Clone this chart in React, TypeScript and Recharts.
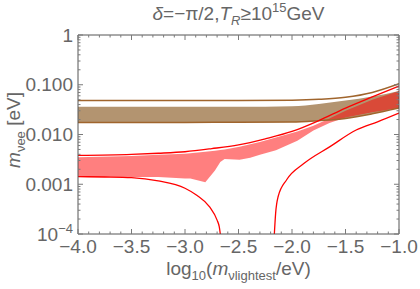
import { ComposedChart, Area, Line, XAxis, YAxis } from "recharts";

const TEXT = "#666666";
const FRAME = "#555555";
const TICK = "#7a7a7a";
const FONT = "'Liberation Sans', Arial, Helvetica, sans-serif";
const BROWN_FILL = "#b39470";
const BROWN_LINE = "#a0652d";
const RED = "#ff0000";

// brown band and its outline lines
const brownX = [-4, -3.5, -3, -2.5, -2, -1.75, -1.5, -1.25, -1];
const brownTopLine = [0.048, 0.048, 0.048, 0.048, 0.049, 0.051, 0.056, 0.07, 0.105];
const brownBandHigh = [0.036, 0.036, 0.036, 0.036, 0.037, 0.041, 0.048, 0.058, 0.075];
const brownBandLow = [0.0175, 0.0175, 0.0175, 0.0176, 0.0178, 0.019, 0.021, 0.026, 0.034];

// red scatter region
const redBandX = [-4, -3.5, -3.25, -3, -2.95, -2.81, -2.72, -2.67, -2.63, -2.49, -2.39, -2.3, -2.15, -1.95, -1.8, -1.65, -1.5, -1.25, -1];
const redBandLow = [0.0014, 0.0014, 0.0014, 0.0013, 0.0013, 0.0011, 0.0019, 0.0028, 0.0032, 0.0031, 0.0034, 0.0039, 0.0048, 0.0075, 0.012, 0.017, 0.022, 0.028, 0.034];
const redBandHigh = [0.0035, 0.0037, 0.0039, 0.0041, 0.0042, 0.0045, 0.0047, 0.0049, 0.005, 0.0057, 0.0064, 0.0071, 0.0087, 0.0115, 0.015, 0.021, 0.03, 0.05, 0.075];

// red boundary curves
const redUpperX = [-4, -3.5, -3.25, -3, -2.75, -2.5, -2.25, -2, -1.75, -1.5, -1.25, -1];
const redUpper = [0.0038, 0.004, 0.0042, 0.0045, 0.0052, 0.0062, 0.0082, 0.0115, 0.019, 0.034, 0.057, 0.094];
const redLeftX = [-4, -3.75, -3.5, -3.25, -3, -2.89, -2.77, -2.7, -2.68, -2.67];
const redLeft = [0.00142, 0.0014, 0.00136, 0.00117, 0.00083, 0.0006, 0.00035, 0.00019, 0.00014, 0.0001];
const redRightX = [-2.165, -2.153, -2.13, -2.05, -1.89, -1.645, -1.4, -1.2, -1];
const redRight = [0.0001, 0.00026, 0.00056, 0.00123, 0.0026, 0.0057, 0.0123, 0.018, 0.027];

const brownData = brownX.map((x, i) => ({
  x,
  top: brownTopLine[i],
  high: brownBandHigh[i],
  low: brownBandLow[i],
}));
const redBandData = redBandX.map((x, i) => ({ x, low: redBandLow[i], high: redBandHigh[i] }));
const redUpperData = redUpperX.map((x, i) => ({ x, y: redUpper[i] }));
const redLeftData = redLeftX.map((x, i) => ({ x, y: redLeft[i] }));
const redRightData = redRightX.map((x, i) => ({ x, y: redRight[i] }));

// frame ticks: every 0.1 on x, log minors on y
const xTicks = Array.from({ length: 31 }, (_, i) => Math.round((-4 + i * 0.1) * 10) / 10);
const yTicks: number[] = [];
for (let d = -4; d < 0; d++) {
  for (let k = 1; k <= 9; k++) yTicks.push(Number((k * Math.pow(10, d)).toPrecision(3)));
}
yTicks.push(1);

const isHalf = (v: number) => Math.abs(v * 2 - Math.round(v * 2)) < 1e-6;
const isDecade = (v: number) => {
  const e = Math.log10(v);
  return Math.abs(e - Math.round(e)) < 1e-6;
};

const yLabels: Record<string, string> = { "0": "1", "-1": "0.100", "-2": "0.010", "-3": "0.001" };

function BottomTick(props: any) {
  const { x, y, payload } = props;
  const v: number = payload.value;
  const major = isHalf(v);
  return (
    <g>
      <line x1={x} x2={x} y1={y} y2={y - (major ? 5 : 2.5)} stroke={TICK} />
      {major && (
        <text x={x} y={y + 19} textAnchor="middle" fill={TEXT} fontSize={19} fontFamily={FONT}>
          {v.toFixed(1).replace("-", "\u2212")}
        </text>
      )}
    </g>
  );
}

function TopTick(props: any) {
  const { x, y, payload } = props;
  const major = isHalf(payload.value);
  return <line x1={x} x2={x} y1={y} y2={y + (major ? 5 : 2.5)} stroke={TICK} />;
}

function LeftTick(props: any) {
  const { x, y, payload } = props;
  const v: number = payload.value;
  const major = isDecade(v);
  const e = Math.round(Math.log10(v));
  return (
    <g>
      <line x1={x} x2={x + (major ? 5 : 2.5)} y1={y} y2={y} stroke={TICK} />
      {major && (
        <text x={x - 5} y={y} dy="0.35em" textAnchor="end" fill={TEXT} fontSize={19} fontFamily={FONT}>
          {e === -4 ? (
            <>
              10<tspan fontSize={13} dy={-8}>{"\u22124"}</tspan>
            </>
          ) : (
            yLabels[String(e)]
          )}
        </text>
      )}
    </g>
  );
}

function RightTick(props: any) {
  const { x, y, payload } = props;
  const major = isDecade(payload.value);
  return <line x1={x} x2={x - (major ? 5 : 2.5)} y1={y} y2={y} stroke={TICK} />;
}

function PlotTitle(props: any) {
  const vb = props.viewBox ?? { x: 78, y: 5, width: 321, height: 30 };
  return (
    <text x={vb.x + vb.width / 2} y={vb.y + 15} textAnchor="middle" fill={TEXT} fontSize={19} fontFamily={FONT}>
      <tspan fontStyle="italic">δ</tspan>=−π/2,<tspan fontStyle="italic">T</tspan>
      <tspan fontSize={13} dy={5} fontStyle="italic">R</tspan>
      <tspan dy={-5}>≥10</tspan>
      <tspan fontSize={13} dy={-8}>15</tspan>
      <tspan dy={8}>GeV</tspan>
    </text>
  );
}

function XTitle(props: any) {
  const vb = props.viewBox ?? { x: 78, y: 234, width: 321, height: 55 };
  return (
    <text x={vb.x + vb.width / 2} y={vb.y + 41} textAnchor="middle" fill={TEXT} fontSize={19} fontFamily={FONT}>
      log<tspan fontSize={13} dy={5}>10</tspan>
      <tspan dy={-5}>(</tspan>
      <tspan fontStyle="italic">m</tspan>
      <tspan fontSize={13} dy={5}>νlightest</tspan>
      <tspan dy={-5}>/eV)</tspan>
    </text>
  );
}

function YTitle(props: any) {
  const vb = props.viewBox ?? { x: 0, y: 35, width: 78, height: 199 };
  const cx = vb.x + 20;
  const cy = vb.y + 95;
  return (
    <text
      x={cx}
      y={cy}
      transform={`rotate(-90, ${cx}, ${cy})`}
      textAnchor="middle"
      fill={TEXT}
      fontSize={19}
      fontFamily={FONT}
    >
      <tspan fontStyle="italic">m</tspan>
      <tspan fontSize={13} dy={5}>νee</tspan>
      <tspan dy={-5}> [eV]</tspan>
    </text>
  );
}

export default function App() {
  return (
    <div style={{ position: "absolute", left: 0, top: 0, background: "#fff" }}>
      <ComposedChart width={420} height={289} margin={{ top: 5, right: 0, bottom: 0, left: 0 }}>
        <XAxis
          xAxisId="b"
          dataKey="x"
          type="number"
          domain={[-4, -1]}
          allowDataOverflow
          ticks={xTicks}
          interval={0}
          tick={<BottomTick />}
          tickLine={false}
          tickSize={0}
          tickMargin={0}
          height={55}
          axisLine={{ stroke: FRAME }}
          label={<XTitle />}
        />
        <XAxis
          xAxisId="t"
          orientation="top"
          dataKey="x"
          type="number"
          domain={[-4, -1]}
          allowDataOverflow
          ticks={xTicks}
          interval={0}
          tick={<TopTick />}
          tickLine={false}
          tickSize={0}
          tickMargin={0}
          height={30}
          axisLine={{ stroke: FRAME }}
          label={<PlotTitle />}
        />
        <YAxis
          yAxisId="l"
          type="number"
          scale="log"
          domain={[0.0001, 1]}
          allowDataOverflow
          ticks={yTicks}
          interval={0}
          tick={<LeftTick />}
          tickLine={false}
          tickSize={0}
          tickMargin={0}
          width={78}
          axisLine={{ stroke: FRAME }}
          label={<YTitle />}
        />
        <YAxis
          yAxisId="r"
          orientation="right"
          type="number"
          scale="log"
          domain={[0.0001, 1]}
          allowDataOverflow
          ticks={yTicks}
          interval={0}
          tick={<RightTick />}
          tickLine={false}
          tickSize={0}
          tickMargin={0}
          width={21}
          axisLine={{ stroke: FRAME }}
        />

        <Area
          xAxisId="b"
          yAxisId="l"
          data={brownData}
          dataKey={(d: any) => [d.low, d.high]}
          type="monotone"
          stroke="none"
          fill={BROWN_FILL}
          fillOpacity={1}
          isAnimationActive={false}
        />
        <Line xAxisId="b" yAxisId="l" data={brownData} dataKey="top" type="monotone" stroke={BROWN_LINE} strokeWidth={1.5} dot={false} activeDot={false} isAnimationActive={false} />
        <Line xAxisId="b" yAxisId="l" data={brownData} dataKey="low" type="monotone" stroke={BROWN_LINE} strokeWidth={1.5} dot={false} activeDot={false} isAnimationActive={false} />

        <Area
          xAxisId="b"
          yAxisId="l"
          data={redBandData}
          dataKey={(d: any) => [d.low, d.high]}
          type="linear"
          stroke="none"
          fill={RED}
          fillOpacity={0.5}
          isAnimationActive={false}
        />
        <Line xAxisId="b" yAxisId="l" data={redUpperData} dataKey="y" type="monotone" stroke={RED} strokeWidth={1.3} dot={false} activeDot={false} isAnimationActive={false} />
        <Line xAxisId="b" yAxisId="l" data={redLeftData} dataKey="y" type="monotone" stroke={RED} strokeWidth={1.3} dot={false} activeDot={false} isAnimationActive={false} />
        <Line xAxisId="b" yAxisId="l" data={redRightData} dataKey="y" type="monotone" stroke={RED} strokeWidth={1.3} dot={false} activeDot={false} isAnimationActive={false} />
      </ComposedChart>
    </div>
  );
}
